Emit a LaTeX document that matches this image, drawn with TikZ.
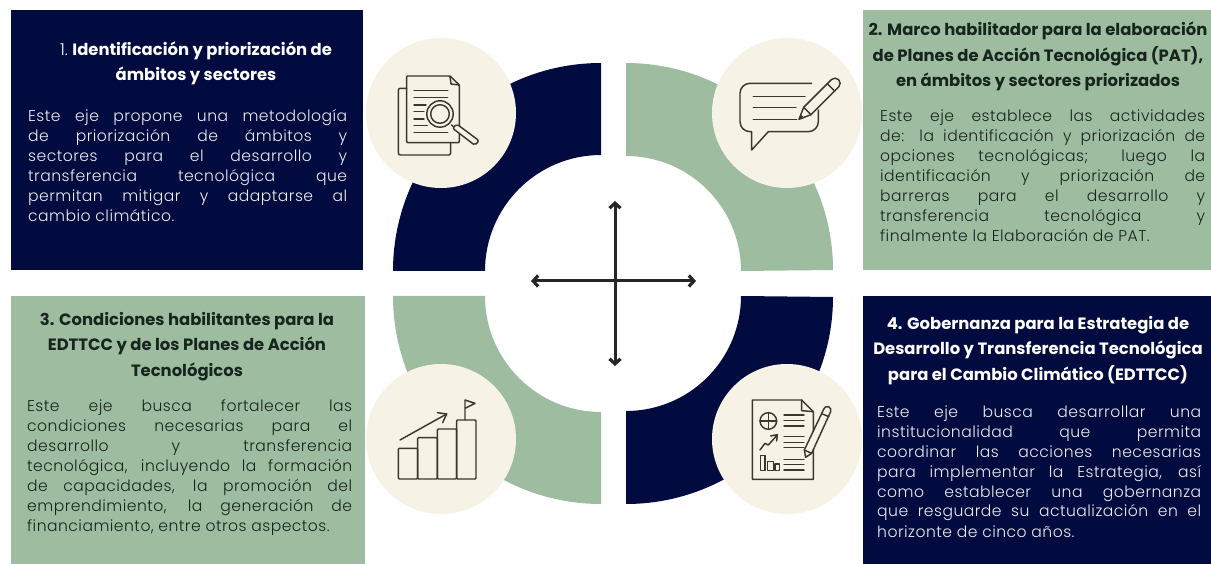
\documentclass[tikz,border=0pt]{standalone}
\usepackage{fontspec}
\setmainfont{Poppins}[UprightFont=* Light,BoldFont=* Bold]
\usetikzlibrary{arrows.meta}
\definecolor{navy}{HTML}{010B40}
\definecolor{sage}{HTML}{9EBC9F}
\definecolor{cream}{HTML}{F6F2E6}
\definecolor{inkgreen}{HTML}{16261E}
\definecolor{softwhite}{HTML}{ECECEC}
\definecolor{iconink}{HTML}{3A372F}
\tikzset{
  panel/.style={inner sep=0pt,outer sep=0pt,anchor=north west},
  badge/.style={circle,fill=cream,minimum size=150pt,inner sep=0pt},
  head/.style={inner sep=0pt,anchor=base,align=center,font=\fontsize{16.4}{25.5}\selectfont\bfseries},
  body/.style={inner sep=0pt,anchor=base west,text width=#1,align=justify,
     font=\fontsize{15.6}{20}\selectfont\addfontfeature{LetterSpace=3}},
  cross/.style={line width=3pt,draw=black!85,{Straight Barb[length=5pt,width=11pt,line width=3.2pt]}-{Straight Barb[length=5pt,width=11pt,line width=3.2pt]}},
  ic/.style={draw=iconink,line width=1.45pt,line cap=round,line join=round},
  icon/.style={shift={#1},x=0.3333pt,y=-0.3333pt}
}
\begin{document}
\begin{tikzpicture}[x=1pt,y=-1pt]
\useasboundingbox (0,0) rectangle (1211,564);
% panels
\node[panel,fill=navy,minimum width=352pt,minimum height=260pt] (p1) at (11,10) {};
\node[panel,fill=sage,minimum width=348pt,minimum height=260pt] (p2) at (863,10) {};
\node[panel,fill=sage,minimum width=354pt,minimum height=268pt] (p3) at (11,296) {};
\node[panel,fill=navy,minimum width=348pt,minimum height=268pt] (p4) at (863,296) {};
% rings
\fill[navy] (393,271) arc (180:90:208pt) -- (601,155) arc (90:180:116pt) -- cycle;
\fill[sage] (626,63) arc (90:0:207pt) -- (741,271) arc (0:90:115pt) -- cycle;
\fill[sage] (393,296) arc (180:270:208pt) -- (601,412) arc (270:180:116pt) -- cycle;
\fill[navy] (626,504) arc (270:360:207pt) -- (741,296) arc (360:270:115pt) -- cycle;
% badges
\node[badge] (c1) at (441,113) {};
\node[badge] (c2) at (787,113) {};
\node[badge] (c3) at (441,439) {};
\node[badge] (c4) at (787,439) {};
% cross
\coordinate (n) at (615,201); \coordinate (s) at (615,366);
\coordinate (w) at (531,281); \coordinate (e) at (696,281);
\draw[cross] (n) -- (s);
\draw[cross] (w) -- (e);
% headings
\node[head,text=white] (h1) at (196,81) {{\mdseries 1.} Identificación y priorización de\\ámbitos y sectores};
\node[head,text=inkgreen] (h2) at (1038,87) {2. Marco habilitador para la elaboración\\de Planes de Acción Tecnológica (PAT),\\en ámbitos y sectores priorizados};
\node[head,text=inkgreen] (h3) at (187,376) {3. Condiciones habilitantes para la\\EDTTCC y de los Planes de Acción\\Tecnológicos};
\node[head,text=white] (h4) at (1038,380) {4. Gobernanza para la Estrategia de\\Desarrollo y Transferencia Tecnológica\\para el Cambio Climático (EDTTCC)};
% bodies
\node[body=319pt,text=softwhite] (b1) at (28,122) {Este eje propone una metodología\linebreak de priorización de ámbitos y\linebreak sectores para el desarrollo y\linebreak transferencia tecnológica que\linebreak permitan mitigar y adaptarse al\linebreak cambio climático.};
\node[body=325pt,text=inkgreen] (b2) at (880,122) {Este eje establece las actividades\linebreak de: la identificación y priorización de\linebreak opciones tecnológicas; luego la\linebreak identificación y priorización de\linebreak barreras para el desarrollo y\linebreak transferencia tecnológica y\linebreak finalmente la Elaboración de PAT.};
\node[body=325pt,text=inkgreen] (b3) at (27,411) {Este eje busca fortalecer las\linebreak condiciones necesarias para el\linebreak desarrollo y transferencia\linebreak tecnológica, incluyendo la formación\linebreak de capacidades, la promoción del\linebreak emprendimiento, la generación de\linebreak financiamiento, entre otros aspectos.};
\node[body=324pt,text=softwhite] (b4) at (877,417) {Este eje busca desarrollar una\linebreak institucionalidad que permita\linebreak coordinar las acciones necesarias\linebreak para implementar la Estrategia, así\linebreak como establecer una gobernanza\linebreak que resguarde su actualización en el\linebreak horizonte de cinco años.};
% icon 1
\begin{scope}[icon={(350,50)}]
  \draw[ic,rounded corners=2pt] (170,115) -- (145,115) -- (145,315) -- (302,315) -- (302,278);
  \draw[ic,rounded corners=1pt] (300,78) -- (170,78) -- (170,278) -- (328,278) -- (328,105) -- cycle;
  \draw[ic] (300,78) -- (303,102) -- (328,105);
  \foreach \y/\a in {122/293,143/293,165/228,185/222,207/222,227/232,247/293}
    \draw[ic] (192,\y) -- (\a,\y);
  \fill[cream] (270,192) circle[radius=13.5pt];
  \draw[ic] (270,192) circle[radius=13.2pt];
  \draw[ic] (270,192) circle[radius=9.3pt];
  \draw[ic] (305,225) -- (318,238);
  \draw[ic,fill=cream,rounded corners=2pt] (308,235) -- (320,222) -- (387,272) -- (375,286) -- cycle;
\end{scope}
% icon 2
\begin{scope}[icon={(620,50)}]
  \draw[ic] (575,100) -- (390,100) arc (90:180:10pt) -- (360,215) arc (180:270:10pt) -- (395,245) -- (395,300) -- (445,245) -- (565,245) arc (270:360:10pt) -- (595,180);
  \draw[ic] (400,140) -- (555,140);
  \draw[ic] (400,173) -- (528,173);
  \draw[ic] (400,208) -- (530,208);
  \draw[ic,fill=cream] (537,208) -- (551,172) -- (634,89) arc (135:-45:5.2pt) -- (573,194) -- cycle;
  \draw[ic] (551,172) -- (573,194);
  \draw[ic] (622,101) -- (644,123);
  \fill[iconink] (537,208) -- (542,193) -- (552,203) -- cycle;
\end{scope}
% icon 3
\begin{scope}[icon={(350,340)}]
  \draw[ic,rounded corners=1pt] (145,417) rectangle (203,325);
  \draw[ic,rounded corners=1pt] (203,417) rectangle (262,293);
  \draw[ic,rounded corners=1pt] (262,417) rectangle (320,267);
  \draw[ic,rounded corners=1pt] (320,417) rectangle (378,240);
  \draw[ic] (150,300) -- (290,222);
  \draw[ic] (262,218) -- (290,222) -- (278,248);
  \draw[ic] (345,240) -- (345,180) -- (375,190) -- (345,205);
\end{scope}
% icon 4
\begin{scope}[icon={(620,340)}]
  \draw[ic] (545,180) -- (397,180) -- (397,418) -- (580,418) -- (580,215) -- cycle;
  \draw[ic] (545,180) -- (545,212) -- (580,215);
  \draw[ic] (445,243) circle[radius=8.3pt];
  \draw[ic] (420,243) -- (470,243);
  \draw[ic] (445,218) -- (445,268);
  \foreach \y in {225,242,258,290,307,323,358,373,390}
    \draw[ic] (492,\y) -- (552,\y);
  \draw[ic] (420,330) -- (435,310) -- (445,315) -- (470,287);
  \draw[ic] (452,288) -- (472,284) -- (470,303);
  \draw[ic] (422,347) rectangle (435,392);
  \draw[ic] (443,365) rectangle (460,392);
  \draw[ic] (465,372) rectangle (478,392);
  \draw[ic,fill=cream] (557,352) -- (553,330) -- (612,206) arc (156:-24:3.65pt) -- (575,340) -- cycle;
  \draw[ic] (553,330) -- (575,340);
  \draw[ic] (607,222) -- (627,230);
\end{scope}
\end{tikzpicture}
\end{document}
